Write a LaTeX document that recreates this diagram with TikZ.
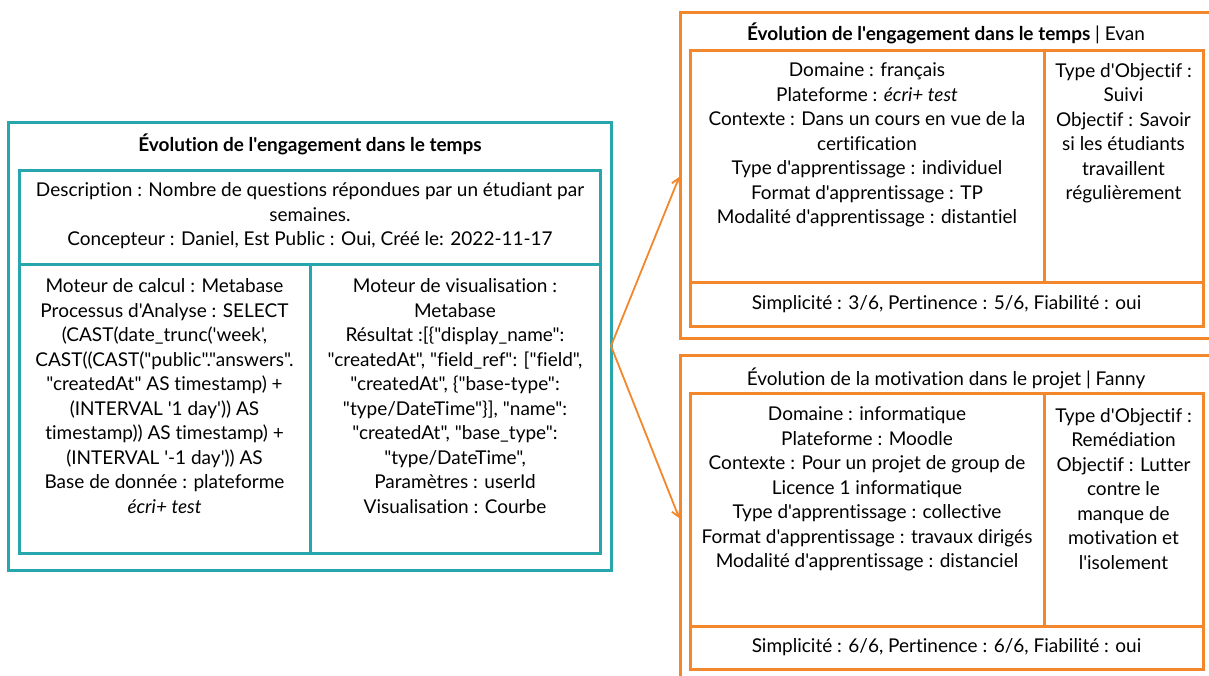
\documentclass[tikz,border=0pt]{standalone}
\usepackage{fontspec}
\setmainfont{Lato}[Ligatures={TeXOff,NoCommon}]
\usetikzlibrary{arrows.meta}
\definecolor{tealc}{RGB}{40,166,174}
\definecolor{orangec}{RGB}{242,135,44}
\begin{document}
\begin{tikzpicture}[x=1pt,y=-1pt,
  box/.style={rectangle,inner sep=0pt,outer sep=0pt,anchor=north west,line width=3pt},
  tbox/.style={box,draw=tealc},
  obox/.style={box,draw=orangec},
  txt/.style={font=\fontsize{19}{24.5}\selectfont,align=center,inner sep=0pt,text=black},
  conn/.style={draw=orangec,line width=1.8pt,-{Straight Barb[length=7pt,width=9pt]},shorten >=2pt}]
\useasboundingbox (0,0) rectangle (1209,675);
% ---------- left teal card ----------
\node[tbox,minimum width=603pt,minimum height=448pt] (L) at (8,122) {};
\node[tbox,minimum width=581pt,minimum height=94pt] (Ldesc) at (19,170) {};
\node[tbox,minimum width=291pt,minimum height=289pt] (Lcalc) at (19,264) {};
\node[tbox,minimum width=290pt,minimum height=289pt] (Lvis) at (310,264) {};
\node[txt,font=\fontsize{19}{24.5}\selectfont\bfseries] (Ltitle) at (310,144) {Évolution de l'engagement dans le temps};
\node[txt] (Ldesctxt) at (310,216) {Description : Nombre de questions répondues par un étudiant par\\semaines.\\Concepteur : Daniel, Est Public : Oui, Créé le: 2022-11-17};
\node[txt] (Lcalctxt) at (164.5,396) {Moteur de calcul : Metabase\\Processus d'Analyse : SELECT\\(CAST(date\_trunc('week',\\CAST((CAST("public"."answers".\\"createdAt" AS timestamp) +\\(INTERVAL '1 day')) AS\\timestamp)) AS timestamp) +\\(INTERVAL '-1 day')) AS\\Base de donnée : plateforme\\\textit{écri+ test}};
\node[txt] (Lvistxt) at (455,396) {Moteur de visualisation :\\Metabase\\Résultat :[\{"display\_name":\\"createdAt", "field\_ref": ["field",\\"createdAt", \{"base-type":\\"type/DateTime"\}], "name":\\"createdAt", "base\_type":\\"type/DateTime",\\Paramètres : userId\\Visualisation : Courbe};
% ---------- right top orange card ----------
\node[obox,minimum width=540pt,minimum height=326pt] (R1) at (680,12) {};
\node[obox,minimum width=354pt,minimum height=232pt] (R1ctx) at (690,50) {};
\node[obox,minimum width=159pt,minimum height=232pt] (R1obj) at (1044,50) {};
\node[obox,minimum width=513pt,minimum height=44pt] (R1eval) at (690,282) {};
\node[txt] (R1title) at (946,33) {\textbf{Évolution de l'engagement dans le temps} | Evan};
\node[txt] (R1ctxtxt) at (867,145) {Domaine : français\\Plateforme : \textit{écri+ test}\\Contexte : Dans un cours en vue de la\\certification\\Type d'apprentissage : individuel\\Format d'apprentissage : TP\\Modalité d'apprentissage : distantiel};
\node[txt] (R1objtxt) at (1123.5,133) {Type d'Objectif :\\Suivi\\Objectif : Savoir\\si les étudiants\\travaillent\\régulièrement};
\node[txt] (R1evaltxt) at (946.5,304) {Simplicité : 3/6, Pertinence : 5/6, Fiabilité : oui};
% ---------- right bottom orange card ----------
\node[obox,minimum width=540pt,minimum height=330pt] (R2) at (680,355) {};
\node[obox,minimum width=354pt,minimum height=233pt] (R2ctx) at (690,393) {};
\node[obox,minimum width=159pt,minimum height=233pt] (R2obj) at (1044,393) {};
\node[obox,minimum width=513pt,minimum height=43pt] (R2eval) at (690,626) {};
\node[txt] (R2title) at (946,378) {Évolution de la motivation dans le projet | Fanny};
\node[txt] (R2ctxtxt) at (867,489) {Domaine : informatique\\Plateforme : Moodle\\Contexte : Pour un projet de group de\\Licence 1 informatique\\Type d'apprentissage : collective\\Format d'apprentissage : travaux dirigés\\Modalité d'apprentissage : distanciel};
\node[txt] (R2objtxt) at (1123.5,489) {Type d'Objectif :\\Remédiation\\Objectif : Lutter\\contre le\\manque de\\motivation et\\l'isolement};
\node[txt] (R2evaltxt) at (946.5,647) {Simplicité : 6/6, Pertinence : 6/6, Fiabilité : oui};
% ---------- connectors ----------
\draw[conn] (L.east) -- (R1.west);
\draw[conn] (L.east) -- (R2.west);
\end{tikzpicture}
\end{document}
